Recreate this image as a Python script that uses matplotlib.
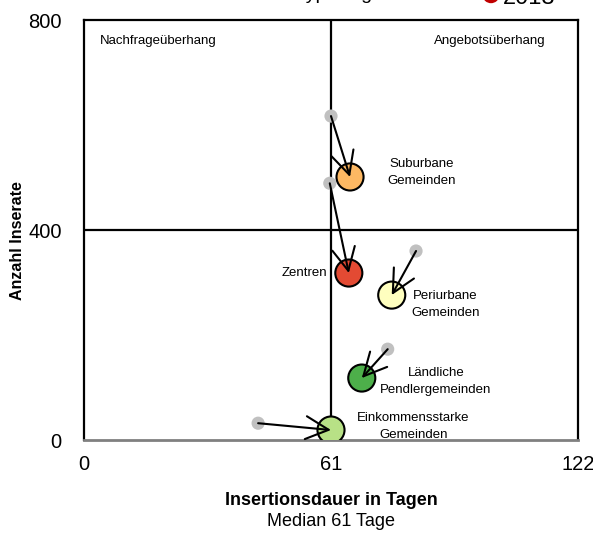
import matplotlib
matplotlib.use("Agg")
import matplotlib.pyplot as plt

plt.rcParams['font.family'] = ['Liberation Sans', 'DejaVu Sans']

categories = ["Suburbane\nGemeinden", "Zentren", "Periurbane\nGemeinden",
              "Ländliche\nPendlergemeinden", "Einkommensstarke\nGemeinden"]
dauer_2012 = [61.0, 60.7, 82.0, 75.0, 43.0]
inserate_2012 = [617, 489, 360, 173, 32]
dauer_2013 = [65.7, 65.4, 76.0, 68.6, 61.0]
inserate_2013 = [501, 318, 276, 118, 19]
colors = ["#fdb863", "#e34a33", "#ffffbf", "#4daf4a", "#b8e186"]
x_ticks = [0, 61, 122]
y_ticks = [0, 400, 800]
median = 61
y_split = 400

fig = plt.figure(figsize=(5.93, 5.34), dpi=100)
ax = fig.add_axes([84/593, 1-440/534, (578-84)/593, (440-20)/534])
ax.set_xlim(0, 122)
ax.set_ylim(0, 800)

ax.axvline(median, color='black', lw=1.6, zorder=1)
ax.axhline(y_split, color='black', lw=1.6, zorder=1)

ax.scatter(dauer_2012, inserate_2012, s=90, color='#c0c0c0', zorder=2, edgecolors='none')
ax.scatter(dauer_2013, inserate_2013, s=380, c=colors, edgecolors='black', linewidths=1.5, zorder=3)
for x0, y0, x1, y1 in zip(dauer_2012, inserate_2012, dauer_2013, inserate_2013):
    ax.annotate("", xy=(x1, y1), xytext=(x0, y0),
                arrowprops=dict(arrowstyle='->,head_length=1.1,head_width=0.55',
                                lw=1.5, color='black', shrinkA=0, shrinkB=0,
                                mutation_scale=15),
                zorder=4)

label_pos = [(83.5, 510, 'center'), (60.0, 318, 'right'), (89.2, 258, 'center'),
             (86.9, 112, 'center'), (81.3, 25, 'center')]
for cat, (lx, ly, ha) in zip(categories, label_pos):
    ax.text(lx, ly, cat, ha=ha, va='center', fontsize=9.5, linespacing=1.55, zorder=5)

ax.text(4, 760, "Nachfrageüberhang", ha='left', va='center', fontsize=9.5)
ax.text(114, 760, "Angebotsüberhang", ha='right', va='center', fontsize=9.5)

ax.set_xticks(x_ticks)
ax.set_yticks(y_ticks)
ax.tick_params(axis='both', length=0, labelsize=14.5)
ax.tick_params(axis='x', pad=11)
ax.tick_params(axis='y', pad=16)
for s in ['top', 'left', 'right']:
    ax.spines[s].set_linewidth(1.6)
    ax.spines[s].set_color('black')
ax.spines['bottom'].set_color('#808080')
ax.spines['bottom'].set_linewidth(2)

ax.set_ylabel("Anzahl Inserate", fontsize=11.5, fontweight='bold')
ax.yaxis.set_label_coords((25-84)/494, (440-241)/420)
ax.set_xlabel("Insertionsdauer in Tagen", fontsize=13, fontweight='bold', labelpad=13)
fig.text(331/593, 1-521/534, "Median 61 Tage", ha='center', va='center', fontsize=13)

# partially clipped legend at the top
fig.text(210/593, 1+1/534, "Gemeindetyp Vergleich", ha='left', va='baseline', fontsize=14)
fig.text(503/593, 1-4/534, "2013", ha='left', va='baseline', fontsize=17)
fig.patches.append(matplotlib.patches.Circle((491/593, 1+4/534), 8/593, transform=fig.transFigure,
                                             facecolor='#c00000', edgecolor='none', figure=fig))

fig.savefig("out.png", dpi=100)
